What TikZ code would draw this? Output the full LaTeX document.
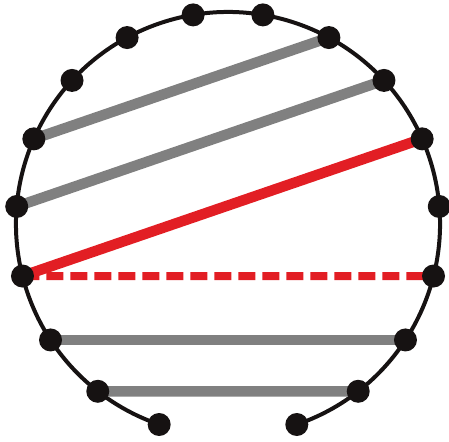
\documentclass[tikz,border=0pt]{standalone}
\usetikzlibrary{backgrounds}
\definecolor{chordgray}{RGB}{128,128,128}
\definecolor{chordred}{RGB}{226,30,36}
\definecolor{dotblack}{RGB}{22,18,18}
\begin{document}
\begin{tikzpicture}[x=1pt, y=1pt, every node/.style={circle, fill=dotblack, inner sep=0pt, minimum size=23pt},
  graychord/.style={line width=10.5pt, chordgray},
  redchord/.style={line width=10.5pt, chordred}]
  \useasboundingbox (-228,-217) rectangle (221,224);
  \foreach \k in {1,...,18} {
    \node (p\k) at (270+\k*360/19:212) {};
  }
  \begin{scope}[on background layer]
    \draw[line width=4pt, dotblack] (p1.center) arc[start angle=270+360/19, end angle=270+18*360/19, radius=212];
    \foreach \a/\b in {13/8, 14/7, 16/3, 17/2} {
      \draw[graychord] (p\a.center) -- (p\b.center);
    }
    \draw[redchord, line width=8pt, dash pattern=on 17pt off 7pt] (p15.center) -- (p4.center);
    \draw[redchord] (p15.center) -- (p6.center);
  \end{scope}
\end{tikzpicture}
\end{document}
